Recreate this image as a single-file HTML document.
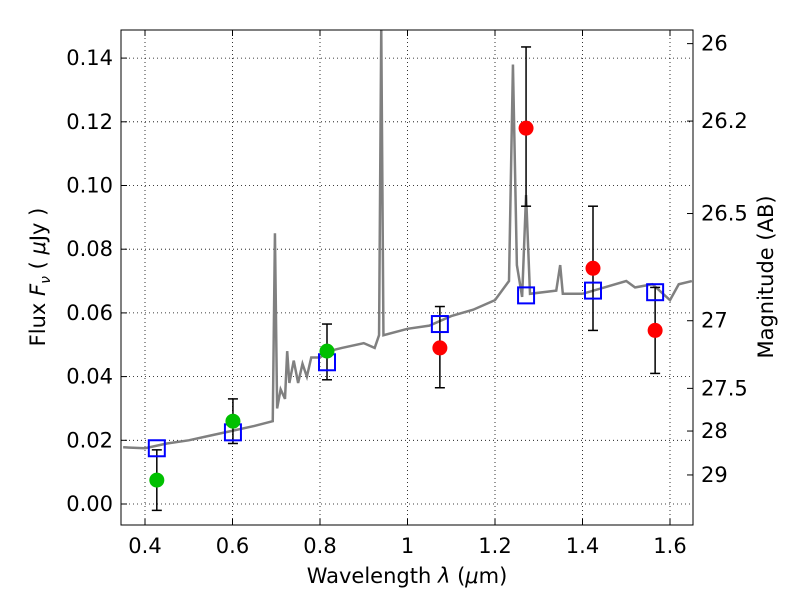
<!DOCTYPE html>
<html><head><meta charset="utf-8"><style>
body{margin:0;background:#fff}
svg text{font-family:"DejaVu Sans","Liberation Sans",sans-serif;fill:#000}
</style></head><body>
<svg id="chart" width="800" height="600" xmlns="http://www.w3.org/2000/svg">
<rect width="800" height="600" fill="#fff"/>
<g id="grid"></g>
<g id="spec"></g>
<g id="marks"></g>
<rect x="121" y="30" width="572" height="495" fill="none" stroke="#000" stroke-width="1"/>
<g id="axes"></g>
<text x="407" y="583" font-size="21" text-anchor="middle">Wavelength  <tspan font-style="italic">λ</tspan> (<tspan font-style="italic">μ</tspan>m)</text>
<text transform="translate(45,277) rotate(-90)" font-size="21" text-anchor="middle">Flux  <tspan font-style="italic">F</tspan><tspan font-style="italic" font-size="14" dy="5">ν</tspan><tspan dy="-5">  ( <tspan font-style="italic">μ</tspan>Jy )</tspan></text>
<text transform="translate(773,277) rotate(-90)" font-size="21" text-anchor="middle">Magnitude (AB)</text>
</svg>
<script>
const xTicks=[0.4,0.6,0.8,1.0,1.2,1.4,1.6];
const xTickLabels=["0.4","0.6","0.8","1","1.2","1.4","1.6"];
const yTicks=[0,0.02,0.04,0.06,0.08,0.10,0.12,0.14];
const yTickLabels=["0.00","0.02","0.04","0.06","0.08","0.10","0.12","0.14"];
const magTicks=[26,26.2,26.5,27,27.5,28,29];
const magTickLabels=["26","26.2","26.5","27","27.5","28","29"];
const specWave=[0.35,0.40,0.45,0.50,0.55,0.60,0.65,0.692,0.697,0.702,0.71,0.72,0.725,0.73,0.74,0.75,0.76,0.77,0.78,0.80,0.82,0.85,0.90,0.925,0.935,0.94,0.945,1.0,1.05,1.1,1.15,1.2,1.232,1.241,1.25,1.262,1.271,1.28,1.34,1.349,1.355,1.4,1.45,1.5,1.52,1.56,1.6,1.62,1.65];
const specFlux=[0.0178,0.0175,0.019,0.020,0.0215,0.023,0.0245,0.026,0.085,0.030,0.036,0.033,0.048,0.038,0.045,0.038,0.044,0.040,0.046,0.046,0.048,0.049,0.0505,0.049,0.053,0.150,0.053,0.055,0.056,0.059,0.061,0.064,0.070,0.138,0.075,0.065,0.097,0.066,0.067,0.075,0.066,0.066,0.068,0.070,0.068,0.069,0.064,0.069,0.070];
const greenWave=[0.427,0.601,0.816];
const greenFlux=[0.0075,0.026,0.048];
const greenLo=[-0.002,0.019,0.039];
const greenHi=[0.017,0.033,0.0565];
const redWave=[1.074,1.271,1.424,1.566];
const redFlux=[0.049,0.118,0.074,0.0545];
const redLo=[0.0365,0.0935,0.0545,0.041];
const redHi=[0.062,0.1435,0.0935,0.068];
const modelWave=[0.427,0.601,0.816,1.074,1.271,1.424,1.566];
const modelFlux=[0.0175,0.0225,0.0445,0.0565,0.0655,0.067,0.0665];

const NS="http://www.w3.org/2000/svg";
const L=121,R=693,T=30,B=525;
const x=v=>145+(v-0.4)*437.5;
const y=v=>504-v*3185;
const magY=m=>y(Math.pow(10,(23.9-m)/2.5));
function mk(p,tag,at){const e=document.createElementNS(NS,tag);for(const k in at)e.setAttribute(k,at[k]);p.appendChild(e);return e;}
const grid=document.getElementById('grid'),axes=document.getElementById('axes'),spec=document.getElementById('spec'),marks=document.getElementById('marks');
xTicks.forEach((v,i)=>{
 const g=mk(grid,'line',{x1:x(v),x2:x(v),y1:T,y2:B,stroke:'#000','stroke-dasharray':'1,3','stroke-width':0.8});
 
 mk(axes,'line',{x1:x(v),x2:x(v),y1:B,y2:B-6,stroke:'#000'});
 mk(axes,'line',{x1:x(v),x2:x(v),y1:T,y2:T+6,stroke:'#000'});
 const t=mk(axes,'text',{x:x(v),y:553,'font-size':21,'text-anchor':'middle'});t.textContent=xTickLabels[i];
 
});
yTicks.forEach((v,i)=>{
 const g=mk(grid,'line',{x1:L,x2:R,y1:y(v),y2:y(v),stroke:'#000','stroke-dasharray':'1,3','stroke-width':0.8});
 
 mk(axes,'line',{x1:L,x2:L+6,y1:y(v),y2:y(v),stroke:'#000'});
 const t=mk(axes,'text',{x:113,y:y(v)+7,'font-size':21,'text-anchor':'end'});t.textContent=yTickLabels[i];
 
});
magTicks.forEach((m,i)=>{
 mk(axes,'line',{x1:R,x2:R-6,y1:magY(m),y2:magY(m),stroke:'#000'});
 const t=mk(axes,'text',{x:701,y:magY(m)+7,'font-size':21});t.textContent=magTickLabels[i];
 
});
const cp=mk(document.getElementById('chart'),'clipPath',{id:'clip'});mk(cp,'rect',{x:L,y:T,width:R-L,height:B-T});
spec.setAttribute('clip-path','url(#clip)');
const sl=mk(spec,'polyline',{points:specWave.map((w,i)=>x(w)+','+y(specFlux[i])).join(' '),fill:'none',stroke:'#808080','stroke-width':2.5});

function err(w,lo,hi){mk(marks,'line',{x1:x(w),x2:x(w),y1:y(lo),y2:y(hi),stroke:'#000','stroke-width':1.5});
 [lo,hi].forEach(v=>mk(marks,'line',{x1:x(w)-5,x2:x(w)+5,y1:y(v),y2:y(v),stroke:'#000','stroke-width':1.5}));}
greenWave.forEach((w,i)=>err(w,greenLo[i],greenHi[i]));
redWave.forEach((w,i)=>err(w,redLo[i],redHi[i]));
modelWave.forEach((w,i)=>{const r=mk(marks,'rect',{x:x(w)-8,y:y(modelFlux[i])-8,width:16,height:16,fill:'none',stroke:'#0000ff','stroke-width':2});
 });
greenWave.forEach((w,i)=>{const c=mk(marks,'circle',{cx:x(w),cy:y(greenFlux[i]),r:7.5,fill:'#00c000'});
 });
redWave.forEach((w,i)=>{const c=mk(marks,'circle',{cx:x(w),cy:y(redFlux[i]),r:7.5,fill:'#ff0000'});
 });
</script>
</body></html>
